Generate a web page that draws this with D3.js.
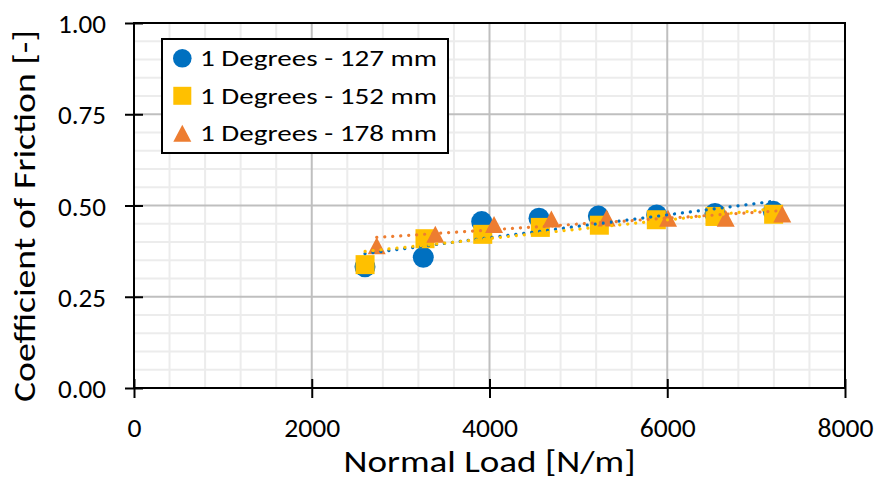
<!DOCTYPE html>
<html>
<head>
<meta charset="utf-8">
<script src="https://cdn.jsdelivr.net/npm/d3@7"></script>
<style>
  html, body { margin: 0; padding: 0; background: #fff; }
  svg { display: block; }
  text { font-family: Carlito, Calibri, Lato, "Open Sans", sans-serif; fill: #000; }
</style>
</head>
<body>
<svg id="chart" width="880" height="482"></svg>
<script>
// ---- data ----
const seriesNames = ["1 Degrees - 127 mm", "1 Degrees - 152 mm", "1 Degrees - 178 mm"];
const load127 = [2599, 3255, 3912, 4557, 5225, 5881, 6537, 7193];
const cof127  = [0.332, 0.358, 0.456, 0.465, 0.471, 0.474, 0.478, 0.484];
const load152 = [2600, 3274, 3924, 4572, 5236, 5877, 6537, 7197];
const cof152  = [0.338, 0.409, 0.421, 0.440, 0.446, 0.461, 0.470, 0.476];
const load178 = [2731, 3390, 4051, 4696, 5318, 6009, 6658, 7294];
const cof178  = [0.390, 0.421, 0.448, 0.463, 0.466, 0.465, 0.465, 0.477];
const xTicks = [0, 2000, 4000, 6000, 8000];
const yTicks = [0, 0.25, 0.5, 0.75, 1.0];
const xTitle = "Normal Load [N/m]";
const yTitle = "Coefficient of Friction [-]";

const colors = ["#0070C0", "#FFC000", "#ED7D31"];
const shapes = ["circle", "square", "triangle"];

const series = [
  {name: seriesNames[0], x: load127, y: cof127},
  {name: seriesNames[1], x: load152, y: cof152},
  {name: seriesNames[2], x: load178, y: cof178}
].map((s, i) => ({...s, color: colors[i], shape: shapes[i],
  pts: s.x.map((v, j) => ({x: v, y: s.y[j]}))}));

// ---- layout ----
const L = 134, R = 845, T = 23, B = 388;
const svg = d3.select("#chart");
const x = d3.scaleLinear().domain([0, 8000]).range([L, R]);
const y = d3.scaleLinear().domain([0, 1]).range([B, T]);
const FONT = "Carlito, Calibri, Lato, sans-serif";

// minor gridlines
const g = svg.append("g");
g.selectAll("line.mx").data(d3.range(400, 8000, 400).filter(v => v % 2000 !== 0))
  .join("line").attr("x1", d => x(d)).attr("x2", d => x(d)).attr("y1", T).attr("y2", B)
  .attr("stroke", "#ececec").attr("stroke-width", 2);
g.selectAll("line.my").data(d3.range(1, 20).map(v => v * 0.05).filter((v, i) => (i + 1) % 5 !== 0))
  .join("line").attr("y1", d => y(d)).attr("y2", d => y(d)).attr("x1", L).attr("x2", R)
  .attr("stroke", "#ececec").attr("stroke-width", 2);
// major gridlines
g.selectAll("line.Mx").data(xTicks.slice(1, -1)).join("line")
  .attr("x1", d => x(d)).attr("x2", d => x(d)).attr("y1", T).attr("y2", B)
  .attr("stroke", "#bfbfbf").attr("stroke-width", 2);
g.selectAll("line.My").data(yTicks.slice(1, -1)).join("line")
  .attr("y1", d => y(d)).attr("y2", d => y(d)).attr("x1", L).attr("x2", R)
  .attr("stroke", "#bfbfbf").attr("stroke-width", 2);

// markers
function triPath(cx, cy, w, h) {
  return `M${cx},${cy - h / 2}L${cx + w / 2},${cy + h / 2}L${cx - w / 2},${cy + h / 2}Z`;
}
function drawMarker(sel, shape, color, size) {
  if (shape === "triangle") {
    sel.append("path").attr("d", triPath(0, 0, 18 * size, 17 * size)).attr("fill", color);
  } else if (shape === "circle") {
    sel.append("circle").attr("r", 10.5 * size).attr("fill", color);
  } else {
    const s = 19 * size;
    sel.append("rect").attr("x", -s / 2).attr("y", -s / 2).attr("width", s).attr("height", s).attr("fill", color);
  }
}
series.forEach(s => {
  const mg = svg.append("g");
  s.pts.forEach(p => {
    const m = mg.append("g").attr("transform", `translate(${x(p.x)},${y(p.y)})`);
    drawMarker(m, s.shape, s.color, 1);
  });
});

// linear trendlines (least squares through each series)
series.forEach(s => {
  const n = s.x.length;
  const mx = d3.mean(s.x), my = d3.mean(s.y);
  let sxy = 0, sxx = 0;
  for (let i = 0; i < n; i++) { sxy += (s.x[i] - mx) * (s.y[i] - my); sxx += (s.x[i] - mx) ** 2; }
  const k = sxy / sxx, b = my - k * mx;
  const [x0, x1] = d3.extent(s.x);
  svg.append("line")
    .attr("x1", x(x0)).attr("y1", y(k * x0 + b))
    .attr("x2", x(x1)).attr("y2", y(k * x1 + b))
    .attr("stroke", s.color).attr("stroke-width", 3.2)
    .attr("stroke-linecap", "round").attr("stroke-dasharray", "0.1 7.9");
});

// frame / axes
svg.append("rect").attr("x", L).attr("y", T).attr("width", R - L).attr("height", B - T)
  .attr("fill", "none").attr("stroke", "#000").attr("stroke-width", 2);

const xAxis = d3.axisBottom(x).tickValues(xTicks).tickSize(0).tickPadding(0).tickFormat(d3.format("d"));
const yAxis = d3.axisLeft(y).tickValues(yTicks).tickSize(0).tickFormat(d3.format(".2f"));

const gx = svg.append("g").attr("transform", `translate(0,${B})`).call(xAxis);
gx.select(".domain").remove();
gx.selectAll(".tick").append("line").attr("y1", -9).attr("y2", 10).attr("stroke", "#000").attr("stroke-width", 2);
gx.selectAll(".tick text").attr("y", 49).attr("dy", null)
  .attr("font-size", 27).attr("fill", "#000").attr("font-family", null).style("font-family", FONT)
  .attr("textLength", 56).attr("lengthAdjust", "spacingAndGlyphs");
gx.selectAll(".tick text").filter(d => d === 0).attr("textLength", 14);

const gy = svg.append("g").attr("transform", `translate(${L},0)`).call(yAxis);
gy.select(".domain").remove();
gy.selectAll(".tick").append("line").attr("x1", -9).attr("x2", 9).attr("stroke", "#000").attr("stroke-width", 2);
gy.selectAll(".tick text").attr("x", -28).attr("dy", "0.36em")
  .attr("font-size", 27).attr("fill", "#000").attr("font-family", null).style("font-family", FONT)
  .attr("textLength", 48).attr("lengthAdjust", "spacingAndGlyphs");

// titles
svg.append("text").attr("x", (L + R) / 2).attr("y", 472).attr("text-anchor", "middle")
  .attr("font-size", 31).attr("textLength", 292).attr("lengthAdjust", "spacingAndGlyphs").text(xTitle);
svg.append("text").attr("transform", "translate(35,216) rotate(-90)").attr("text-anchor", "middle")
  .attr("font-size", 31).attr("textLength", 372).attr("lengthAdjust", "spacingAndGlyphs").text(yTitle);

// legend
const lg = svg.append("g");
lg.append("rect").attr("x", 162).attr("y", 39).attr("width", 286).attr("height", 114)
  .attr("fill", "#fff").attr("stroke", "#000").attr("stroke-width", 2);
series.forEach((s, i) => {
  const cy = 58.3 + i * 37.5;
  const m = lg.append("g").attr("transform", `translate(182.3,${cy})`);
  if (s.shape === "circle") m.append("circle").attr("r", 9.3).attr("fill", s.color);
  else if (s.shape === "square") m.append("rect").attr("x", -9).attr("y", -9).attr("width", 18).attr("height", 18).attr("fill", s.color);
  else m.append("path").attr("d", triPath(0, 0, 18, 17)).attr("fill", s.color);
  lg.append("text").attr("x", 200).attr("y", cy + 8).attr("font-size", 22.5)
    .attr("textLength", 237).attr("lengthAdjust", "spacingAndGlyphs").text(s.name);
});
</script>
</body>
</html>
